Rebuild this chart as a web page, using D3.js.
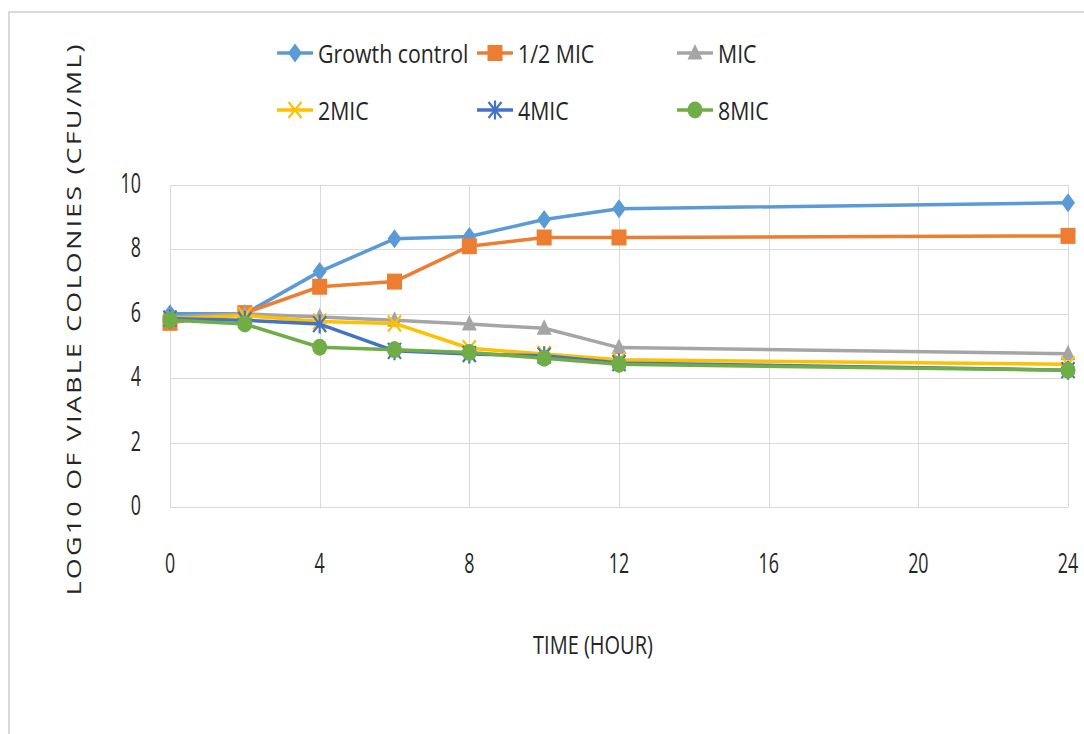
<!DOCTYPE html>
<html>
<head>
<meta charset="utf-8">
<script src="https://cdn.jsdelivr.net/npm/d3@7/dist/d3.min.js"></script>
<style>
  body { margin: 0; background: #fff; }
  text { font-family: "Open Sans", "Noto Sans", sans-serif; fill: #262626; }
</style>
</head>
<body>
<div id="chart"></div>
<script>
// time points (hours) and log10 CFU/mL
const hours = [0, 2, 4, 6, 8, 10, 12, 24];
const growthControl = [6.0, 6.0, 7.31, 8.33, 8.40, 8.93, 9.26, 9.45];
const halfMic = [5.72, 6.02, 6.84, 7.0, 8.1, 8.37, 8.37, 8.42];
const mic = [5.9, 6.0, 5.9, 5.8, 5.68, 5.55, 4.95, 4.76];
const twoMic = [5.85, 5.95, 5.76, 5.7, 4.93, 4.75, 4.57, 4.43];
const fourMic = [5.85, 5.8, 5.68, 4.85, 4.75, 4.7, 4.47, 4.25];
const eightMic = [5.81, 5.68, 4.96, 4.88, 4.8, 4.62, 4.43, 4.25];

const seriesNames = ['Growth control', '1/2 MIC', 'MIC', '2MIC', '4MIC', '8MIC'];
const seriesValues = [growthControl, halfMic, mic, twoMic, fourMic, eightMic];
const seriesColors = ['#5B9BD5', '#ED7D31', '#A5A5A5', '#FFC000', '#4472C4', '#70AD47'];
const seriesMarkers = ['diamond', 'square', 'triangle', 'x', 'star', 'circle'];

const xTicks = [0, 4, 8, 12, 16, 20, 24];
const yTicks = [0, 2, 4, 6, 8, 10];

const width = 1084, height = 734;
const margin = {top: 185, right: 16, bottom: 227, left: 170};

const svg = d3.select('#chart')
    .append('svg')
    .attr('width', width)
    .attr('height', height);

svg.append('rect')
    .attr('width', width)
    .attr('height', height)
    .attr('fill', '#fff');

// outer chart frame (cut by the picture edge on the right and bottom)
svg.append('path')
    .attr('d', `M9,${height + 5}V12H${width + 5}`)
    .attr('fill', 'none')
    .attr('stroke', '#d9d9d9')
    .attr('stroke-width', 2);

const x = d3.scaleLinear().domain([0, 24]).range([margin.left, width - margin.right]);
const y = d3.scaleLinear().domain([0, 10]).range([height - margin.bottom, margin.top]);

// narrow text helper: the source figure was squeezed horizontally
function label(parent, px, py, str, size, anchor, sx) {
    return parent.append('text')
        .attr('transform', `translate(${px},${py}) scale(${sx},1)`)
        .attr('text-anchor', anchor)
        .attr('dominant-baseline', 'central')
        .attr('font-size', size)
        .text(str);
}

// gridlines
const grid = svg.append('g').attr('stroke', '#d9d9d9').attr('stroke-width', 1);
grid.selectAll('.gy')
    .data(yTicks)
    .enter().append('line')
    .attr('x1', x(0)).attr('x2', x(24))
    .attr('y1', (d) => Math.round(y(d)) + 0.5)
    .attr('y2', (d) => Math.round(y(d)) + 0.5);
grid.selectAll('.gx')
    .data(xTicks)
    .enter().append('line')
    .attr('y1', y(0)).attr('y2', y(10))
    .attr('x1', (d) => Math.round(x(d)) + 0.5)
    .attr('x2', (d) => Math.round(x(d)) + 0.5);

// tick labels
yTicks.forEach((t) => label(svg, 141, y(t) - 2, t, 27, 'end', 0.66));
xTicks.forEach((t) => label(svg, x(t), 563, t, 27, 'middle', 0.66));

// axis titles
label(svg, 593, 645, 'TIME (HOUR)', 25, 'middle', 0.8);
svg.append('text')
    .attr('transform', 'translate(73,320) rotate(-90) scale(1,0.75)')
    .attr('text-anchor', 'middle')
    .attr('dominant-baseline', 'central')
    .attr('font-size', 27)
    .attr('textLength', 551)
    .attr('lengthAdjust', 'spacing')
    .text('LOG10 OF VIABLE COLONIES (CFU/ML)');

// marker drawing
function drawMarker(g, type, color) {
    if (type === 'diamond') {
        g.append('path').attr('d', 'M0,-9.5L7,0L0,9.5L-7,0Z').attr('fill', color);
    } else if (type === 'square') {
        g.append('rect').attr('x', -7.5).attr('y', -8).attr('width', 15).attr('height', 16).attr('fill', color);
    } else if (type === 'triangle') {
        g.append('path').attr('d', 'M0,-9L7.5,6.5L-7.5,6.5Z').attr('fill', color);
    } else if (type === 'circle') {
        g.append('ellipse').attr('rx', 7.5).attr('ry', 8.5).attr('fill', color);
    } else if (type === 'x') {
        g.append('path').attr('d', 'M-6.5,-8L6.5,8M6.5,-8L-6.5,8')
            .attr('stroke', color).attr('stroke-width', 2.2).attr('fill', 'none');
    } else if (type === 'star') {
        g.append('path').attr('d', 'M-6.5,-8L6.5,8M6.5,-8L-6.5,8M0,-9.5V9.5')
            .attr('stroke', color).attr('stroke-width', 2.2).attr('fill', 'none');
    }
}

// series
const line = d3.line()
    .x((d) => x(d[0]))
    .y((d) => y(d[1]));

seriesValues.forEach((vals, i) => {
    const pts = hours.map((h, j) => [h, vals[j]]);
    const g = svg.append('g');
    g.append('path')
        .datum(pts)
        .attr('d', line)
        .attr('fill', 'none')
        .attr('stroke', seriesColors[i])
        .attr('stroke-width', 3.5)
        .attr('stroke-linejoin', 'round');
    g.selectAll('.m')
        .data(pts)
        .enter().append('g')
        .attr('transform', (d) => `translate(${x(d[0])},${y(d[1])})`)
        .each(function () { drawMarker(d3.select(this), seriesMarkers[i], seriesColors[i]); });
});

// legend: 3 columns x 2 rows
const legendX = [295, 495, 695];
const legendY = [53, 110];
seriesNames.forEach((name, i) => {
    const lx = legendX[i % 3], ly = legendY[Math.floor(i / 3)];
    const g = svg.append('g').attr('transform', `translate(${lx},${ly})`);
    g.append('line')
        .attr('x1', -18).attr('x2', 18)
        .attr('stroke', seriesColors[i])
        .attr('stroke-width', 3.5);
    drawMarker(g, seriesMarkers[i], seriesColors[i]);
    label(g, 23, 0, name, 26, 'start', 0.82);
});
</script>
</body>
</html>
